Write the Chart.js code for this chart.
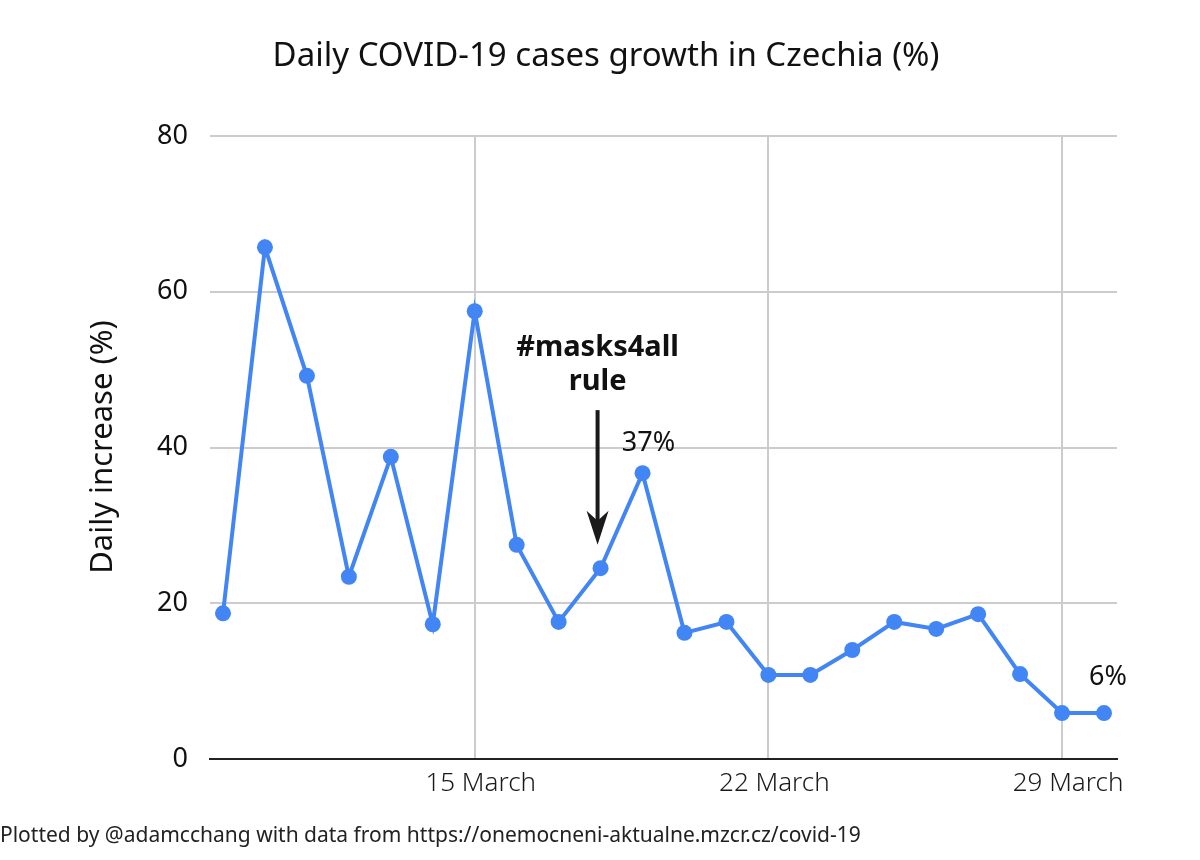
<!DOCTYPE html>
<html>
<head>
<meta charset="utf-8">
<script src="https://cdn.jsdelivr.net/npm/chart.js@4"></script>
<style>
html,body{margin:0;padding:0;background:#fff;}
#wrap{width:1200px;height:860px;position:relative;}
</style>
</head>
<body>
<div id="wrap"><canvas id="c" width="1200" height="860"></canvas></div>
<script>
const days = ["9 March","10 March","11 March","12 March","13 March","14 March","15 March","16 March","17 March","18 March","19 March","20 March","21 March","22 March","23 March","24 March","25 March","26 March","27 March","28 March","29 March","30 March"];
const growth = [18.7,65.7,49.2,23.4,38.8,17.3,57.5,27.5,17.6,24.5,36.7,16.2,17.6,10.8,10.8,14.0,17.6,16.7,18.6,10.9,5.9,5.9];
const xTickIndex = [6,13,20];
const xTickLabels = ["15 March","22 March","29 March"];
const yTicks = [0,20,40,60,80];
const titleText = "Daily COVID-19 cases growth in Czechia (%)";
const yTitle = "Daily increase (%)";
const footer = "Plotted by @adamcchang with data from https://onemocneni-aktualne.mzcr.cz/covid-19";
const maskIndex = 9;
const maskLabel = ["#masks4all","rule"];
const peakIndex = 10, peakLabel = "37%";
const lastIndex = 21, lastLabel = "6%";

const FONT = "'Noto Sans', sans-serif";
const BLUE = "#4285F4";

const annot = {
  id: 'annot',
  afterDraw(chart){
    const ctx = chart.ctx, xs = chart.scales.x, ys = chart.scales.y;
    ctx.save();
    ctx.fillStyle = '#111';
    ctx.textAlign = 'center'; ctx.textBaseline = 'middle';
    ctx.font = "33px " + FONT;
    ctx.fillText(titleText, 606, 57);
    ctx.save();
    ctx.translate(103, 447);
    ctx.rotate(-Math.PI/2);
    ctx.font = "31px " + FONT;
    ctx.fillText(yTitle, 0, 0);
    ctx.restore();
    ctx.textAlign = 'left';
    ctx.font = "21px " + FONT;
    ctx.fillStyle = '#222';
    ctx.fillText(footer, 0, 836);
    const ax = xs.getPixelForValue(maskIndex) - 3;
    ctx.fillStyle = '#111';
    ctx.textAlign = 'center';
    ctx.font = "bold 29px " + FONT;
    ctx.fillText(maskLabel[0], ax, ys.getPixelForValue(52.8));
    ctx.fillText(maskLabel[1], ax, ys.getPixelForValue(48.4));
    const yTop = ys.getPixelForValue(44.8), yTip = ys.getPixelForValue(27.5);
    ctx.strokeStyle = '#1a1a1a'; ctx.lineWidth = 4;
    ctx.beginPath(); ctx.moveTo(ax, yTop); ctx.lineTo(ax, yTip - 20); ctx.stroke();
    ctx.fillStyle = '#1a1a1a';
    ctx.beginPath();
    ctx.moveTo(ax, yTip);
    ctx.lineTo(ax - 11, yTip - 34);
    ctx.lineTo(ax, yTip - 24);
    ctx.lineTo(ax + 11, yTip - 34);
    ctx.closePath(); ctx.fill();
    ctx.fillStyle = '#111';
    ctx.font = "27px " + FONT;
    ctx.fillText(peakLabel, xs.getPixelForValue(peakIndex) + 6, ys.getPixelForValue(40.6));
    ctx.fillText(lastLabel, xs.getPixelForValue(lastIndex) + 4, ys.getPixelForValue(10.5));
    ctx.restore();
  }
};

new Chart(document.getElementById('c'), {
  type: 'line',
  data: {
    datasets: [{
      label: 'growth',
      data: growth.map((v,i)=>({x:i, y:v})),
      borderColor: BLUE,
      backgroundColor: BLUE,
      borderWidth: 4,
      pointRadius: 8,
      pointHoverRadius: 8,
      pointBorderWidth: 0,
      tension: 0
    }]
  },
  options: {
    responsive: false,
    animation: false,
    devicePixelRatio: 1,
    layout: { padding: { top: 136, right: 83, bottom: 0, left: 0 } },
    plugins: { legend: {display:false}, tooltip:{enabled:false}, title:{display:false} },
    scales: {
      x: {
        type: 'linear',
        min: -0.31, max: 21.31,
        afterBuildTicks(s){ s.ticks = xTickIndex.map(v=>({value:v})); },
        afterFit(s){ s.height = 101; },
        ticks: {
          autoSkip:false, maxRotation:0, padding: 9, labelOffset: 6,
          color:'#1a1a1a',
          font:{ family: FONT, size: 26, weight: '300' },
          callback(v){ const k = xTickIndex.indexOf(v); return k>=0 ? xTickLabels[k] : ''; }
        },
        grid: { color:'#cccccc', lineWidth:2, drawTicks:false },
        border: { display:true, color:'#222', width:2 }
      },
      y: {
        min: 0, max: 80,
        afterBuildTicks(s){ s.ticks = yTicks.map(v=>({value:v})); },
        afterFit(s){ s.width = 210; },
        ticks: { padding: 22, color:'#111', font:{ family: FONT, size: 27 } },
        grid: { color: c => c.tick && c.tick.value === 0 ? 'rgba(0,0,0,0)' : '#cccccc', lineWidth:2, drawTicks:false },
        border: { display:false }
      }
    }
  },
  plugins: [annot]
});
</script>
</body>
</html>
